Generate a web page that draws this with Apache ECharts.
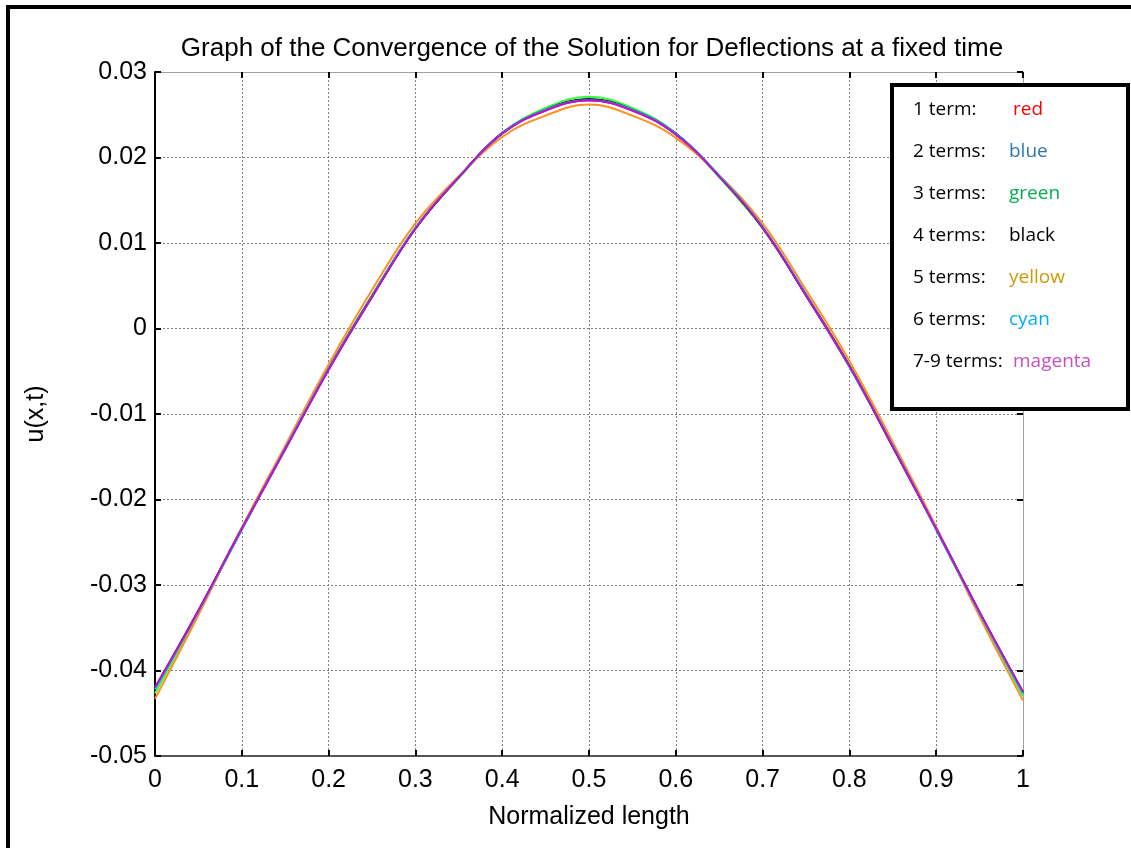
<!DOCTYPE html>
<html>
<head>
<meta charset="utf-8">
<script src="https://cdn.jsdelivr.net/npm/echarts@6/dist/echarts.min.js"></script>
<style>
  html, body { margin: 0; padding: 0; background: #fff; }
  #chart { width: 1131px; height: 848px; }
</style>
</head>
<body>
<div id="chart"></div>
<script>
// Sample positions along the normalized length
const xs = [0, 0.05, 0.1, 0.15, 0.2, 0.25, 0.3, 0.35, 0.4, 0.45, 0.5,
            0.55, 0.6, 0.65, 0.7, 0.75, 0.8, 0.85, 0.9, 0.95, 1];

// Deflection u(x,t) for each number of series terms
const uRed     = [-0.0420, -0.0330, -0.0234, -0.0141, -0.0048, 0.0037, 0.0117, 0.0177, 0.0228, 0.0255, 0.0267,
                  0.0255, 0.0227, 0.0178, 0.0118, 0.0039, -0.0044, -0.0138, -0.0234, -0.0332, -0.0425];
const uBlue    = [-0.0421, -0.0331, -0.0235, -0.0141, -0.0048, 0.0037, 0.0117, 0.0177, 0.0229, 0.0256, 0.0268,
                  0.0256, 0.0228, 0.0178, 0.0118, 0.0039, -0.0044, -0.0138, -0.0235, -0.0333, -0.0426];
const uGreen   = [-0.0427, -0.0332, -0.0233, -0.0139, -0.0046, 0.0039, 0.0117, 0.0176, 0.0228, 0.0258, 0.0271,
                  0.0258, 0.0228, 0.0177, 0.0117, 0.0040, -0.0043, -0.0136, -0.0233, -0.0334, -0.0430];
const uBlack   = [-0.0421, -0.0330, -0.0234, -0.0140, -0.0047, 0.0038, 0.0117, 0.0177, 0.0228, 0.0256, 0.0268,
                  0.0256, 0.0228, 0.0178, 0.0118, 0.0039, -0.0044, -0.0138, -0.0234, -0.0332, -0.0426];
const uYellow  = [-0.0433, -0.0335, -0.0233, -0.0137, -0.0042, 0.0045, 0.0123, 0.0178, 0.0224, 0.0249, 0.0262,
                  0.0249, 0.0223, 0.0179, 0.0123, 0.0045, -0.0038, -0.0133, -0.0232, -0.0337, -0.0435];
const uCyan    = [-0.0422, -0.0331, -0.0235, -0.0140, -0.0047, 0.0038, 0.0118, 0.0177, 0.0228, 0.0256, 0.0267,
                  0.0256, 0.0228, 0.0179, 0.0119, 0.0040, -0.0045, -0.0137, -0.0235, -0.0333, -0.0427];
const uMagenta = [-0.0420, -0.0330, -0.0234, -0.0141, -0.0048, 0.0037, 0.0117, 0.0177, 0.0228, 0.0255, 0.0267,
                  0.0255, 0.0227, 0.0178, 0.0118, 0.0039, -0.0044, -0.0138, -0.0234, -0.0332, -0.0425];

// Legend box texts
const legendTerms  = ['1 term:', '2 terms:', '3 terms:', '4 terms:', '5 terms:', '6 terms:', '7-9 terms:'];
const legendColors = ['red', 'blue', 'green', 'black', 'yellow', 'cyan', 'magenta'];

const titleText = 'Graph of the Convergence of the Solution for Deflections at a fixed time';
const xName = 'Normalized length';
const yName = 'u(x,t)';

const seriesSpec = [
  { name: '1 term',    data: uRed,     color: '#ff0000' },
  { name: '2 terms',   data: uBlue,    color: '#2020ff' },
  { name: '3 terms',   data: uGreen,   color: '#33ff33' },
  { name: '4 terms',   data: uBlack,   color: '#000000' },
  { name: '5 terms',   data: uYellow,  color: '#ff9020' },
  { name: '6 terms',   data: uCyan,    color: '#00c8e8' },
  { name: '7-9 terms', data: uMagenta, color: '#c010d0' }
];
const legendTextColors = ['#ff0000', '#2e75b6', '#00b050', '#000000', '#cc9a06', '#00b0f0', '#c64fc6'];

const FONT = '"Liberation Sans", Arial, sans-serif';
const LEGEND_FONT = '19px "Open Sans", sans-serif';
const chart = echarts.init(document.getElementById('chart'), null, { renderer: 'canvas' });

const gridLine = { show: true, lineStyle: { color: '#808080', width: 1, type: [2, 2] } };
const tickStyle = { show: true, inside: true, length: 6, lineStyle: { color: '#000', width: 2 } };

const graphics = [
  // outer frame (top and left edges)
  { type: 'line', shape: { x1: 8, y1: 7, x2: 1131, y2: 7 }, style: { stroke: '#000', lineWidth: 4 }, z: 100 },
  { type: 'line', shape: { x1: 8, y1: 5, x2: 8, y2: 848 }, style: { stroke: '#000', lineWidth: 4 }, z: 100 },
  // legend box
  { type: 'rect', shape: { x: 892, y: 85, width: 236, height: 324 },
    style: { fill: '#fff', stroke: '#000', lineWidth: 4 }, z: 100 }
];
legendTerms.forEach((t, i) => {
  const y = 110 + i * 42;
  graphics.push({ type: 'text', x: 913, y: y, z: 101,
    style: { text: t, fill: '#000', font: LEGEND_FONT, verticalAlign: 'middle' } });
  graphics.push({ type: 'text', x: (i === 0 || i === 6) ? 1013 : 1009, y: y, z: 101,
    style: { text: legendColors[i], fill: legendTextColors[i], font: LEGEND_FONT, verticalAlign: 'middle' } });
});

chart.setOption({
  backgroundColor: '#fff',
  animation: false,
  title: {
    text: titleText, left: 587, top: 31, textAlign: 'center',
    textStyle: { fontFamily: FONT, fontSize: 26, fontWeight: 'normal', color: '#000' }
  },
  grid: { left: 155, right: 108, top: 72, bottom: 92, containLabel: false },
  xAxis: [
    {
      type: 'value', min: 0, max: 1, interval: 0.1, position: 'bottom',
      name: xName, nameLocation: 'middle', nameGap: 49,
      nameTextStyle: { fontFamily: FONT, fontSize: 25, color: '#000' },
      axisLine: { show: true, onZero: false, lineStyle: { color: '#555', width: 2 } },
      axisTick: tickStyle,
      axisLabel: { fontFamily: FONT, fontSize: 25, color: '#000', margin: 12,
        formatter: v => String(+v.toFixed(1)) },
      splitLine: gridLine
    },
    {
      type: 'value', min: 0, max: 1, interval: 0.1, position: 'top',
      axisLine: { show: true, onZero: false, lineStyle: { color: '#a0a0a0', width: 1 } },
      axisTick: tickStyle, axisLabel: { show: false }, splitLine: { show: false }
    }
  ],
  yAxis: [
    {
      type: 'value', min: -0.05, max: 0.03, interval: 0.01, position: 'left',
      name: yName, nameLocation: 'middle', nameGap: 106, nameRotate: 90,
      nameTextStyle: { fontFamily: FONT, fontSize: 25, color: '#000' },
      axisLine: { show: true, onZero: false, lineStyle: { color: '#000', width: 2 } },
      axisTick: tickStyle,
      axisLabel: { fontFamily: FONT, fontSize: 25, color: '#000', margin: 8,
        formatter: v => String(+v.toFixed(2)) },
      splitLine: gridLine
    },
    {
      type: 'value', min: -0.05, max: 0.03, interval: 0.01, position: 'right',
      axisLine: { show: true, onZero: false, lineStyle: { color: '#a0a0a0', width: 1 } },
      axisTick: tickStyle, axisLabel: { show: false }, splitLine: { show: false }
    }
  ],
  series: seriesSpec.map(s => ({
    name: s.name, type: 'line', smooth: 0.4, symbol: 'none',
    xAxisIndex: 0, yAxisIndex: 0,
    lineStyle: { color: s.color, width: 2 },
    data: xs.map((x, i) => [x, s.data[i]])
  })),
  graphic: graphics
});
</script>
</body>
</html>
